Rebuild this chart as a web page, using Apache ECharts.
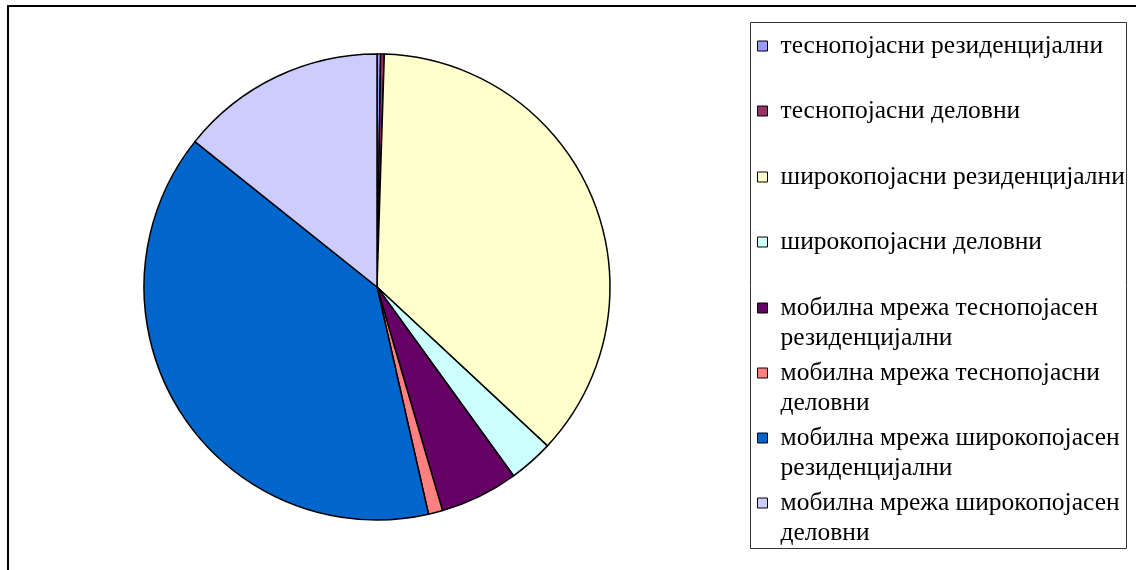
<!DOCTYPE html>
<html>
<head>
<meta charset="utf-8">
<script src="https://cdn.jsdelivr.net/npm/echarts@6/dist/echarts.min.js"></script>
<style>html,body{margin:0;padding:0;background:#fff;}#c{width:1136px;height:570px;}</style>
</head>
<body>
<div id="c"></div>
<script>
const categories = [
  'теснопојасни резиденцијални',
  'теснопојасни деловни',
  'широкопојасни резиденцијални',
  'широкопојасни деловни',
  'мобилна мрежа теснопојасен резиденцијални',
  'мобилна мрежа теснопојасни деловни',
  'мобилна мрежа широкопојасен резиденцијални',
  'мобилна мрежа широкопојасен деловни'
];
const values = [0.25, 0.25, 36.45, 3.09, 5.43, 0.99, 39.28, 14.28];
const colors = ['#9999FF', '#993366', '#FFFFCC', '#CCFFFF', '#660066', '#FF8080', '#0066CC', '#CCCCFF'];

function isTwoLine(name) { return name.split(' ')[0] === 'мобилна'; }
function legendText(name) {
  const w = name.split(' ');
  if (isTwoLine(name)) return ' \n' + w.slice(0, 3).join(' ') + '\n' + w.slice(3).join(' ');
  return name;
}

const firstLineY = [46, 111, 177, 242, 308, 373, 438, 503];

const legends = categories.map((name, i) => {
  const two = isTwoLine(name);
  return {
    data: [name],
    orient: 'vertical',
    left: 757,
    top: firstLineY[i] - (two ? 45 : 15),
    padding: 0,
    itemWidth: 10,
    itemHeight: 10,
    icon: 'rect',
    selectedMode: false,
    itemStyle: { borderColor: '#000', borderWidth: 1 },
    formatter: legendText,
    textStyle: {
      fontFamily: 'Liberation Serif',
      fontSize: 25.5,
      color: '#000',
      lineHeight: 30,
      padding: [0, 0, 0, 8]
    }
  };
});

const chart = echarts.init(document.getElementById('c'), null, { renderer: 'canvas' });
chart.setOption({
  animation: false,
  backgroundColor: '#fff',
  color: colors,
  graphic: [
    { type: 'rect', shape: { x: 8, y: 6, width: 1300, height: 800 }, style: { fill: 'none', stroke: '#000', lineWidth: 2 }, silent: true },
    { type: 'rect', shape: { x: 750.5, y: 22.5, width: 376, height: 526 }, style: { fill: '#fff', stroke: '#333', lineWidth: 1 }, silent: true, z: -1 }
  ],
  legend: legends,
  series: [{
    type: 'pie',
    center: [377, 287],
    radius: 233,
    startAngle: 90,
    clockwise: true,
    label: { show: false },
    labelLine: { show: false },
    emphasis: { disabled: true },
    itemStyle: { borderColor: '#000', borderWidth: 1.5 },
    data: categories.map((n, i) => ({ name: n, value: values[i] }))
  }]
});
</script>
</body>
</html>
